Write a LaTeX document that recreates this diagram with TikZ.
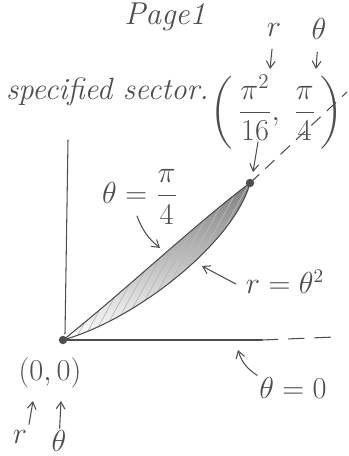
\documentclass[tikz,border=0pt]{standalone}
\usepackage{amsmath}
\usetikzlibrary{arrows.meta}
\definecolor{pencil}{HTML}{4E4E4E}
\definecolor{shade}{HTML}{E6E6E6}

\begin{document}
\begin{tikzpicture}[x=0.02cm,y=-0.02cm,
  hand/.style={pencil,line width=0.6pt,line cap=round},
  note/.style={pencil,font=\fontsize{16}{19}\selectfont,inner sep=1pt},
  tip/.style={hand,-{Straight Barb[length=4pt,width=5pt]}}]
  \useasboundingbox (0,0) rectangle (348,456);

  % Heading
  \node[note,font=\fontsize{18}{21}\selectfont,anchor=base] (title) at (165,25) {\itshape Page1};
  \node[note,font=\fontsize{17.5}{20}\selectfont,anchor=base west] (sector) at (4,99) {\itshape specified sector.};

  % End point in (r, theta)
  \node[note,font=\fontsize{17}{20}\selectfont] (endlbl) at (277,112) {$\left(\,\dfrac{\pi^2}{16},\;\dfrac{\pi}{4}\,\right)$};
  \node[note] (rtop) at (274,30) {$r$};
  \node[note] (thtop) at (319,29) {$\theta$};
  \coordinate (rtip) at (270,69);
  \coordinate (thtip) at (316,69);
  \draw[tip,shorten <=6pt] (rtop) -- (rtip);
  \draw[tip,shorten <=6pt] (thtop) -- (thtip);

  % Axes
  \coordinate (O) at (63,340);
  \coordinate (P) at (250,183);
  \coordinate (ytop) at (68,140);
  \coordinate (xend) at (262,340);
  \coordinate (xfar) at (335,337);
  \coordinate (rayfar) at (347,92);
  \draw[hand] (ytop) -- (65,334);
  \draw[hand] (O) -- (xend);
  \draw[hand,dash pattern=on 9pt off 6pt] (xend) -- (xfar);
  \draw[hand,dash pattern=on 7pt off 5pt] (P) -- (rayfar);

  % Sector between theta=pi/4 and r=theta^2
  \fill[shade] (O) .. controls (120,295) and (200,220) .. (P)
    .. controls (235,240) and (140,318) .. (O);
  \begin{scope}
    \clip (O) .. controls (120,295) and (200,220) .. (P)
      .. controls (235,240) and (140,318) .. (O);
    \foreach \h in {-120,-112,...,260}
      \draw[pencil!40,line width=0.4pt] (\h,360) -- ++(110,-200);
  \end{scope}
  \draw[hand] (O) .. controls (120,295) and (200,220) .. (P)
    .. controls (235,240) and (140,318) .. (O);
  \fill[pencil] (O) circle (2.4pt);
  \fill[pencil] (P) circle (2.4pt);
  \coordinate (ptop) at (258,142);
  \draw[tip] (ptop) -- (253,172);

  % Curve labels
  \node[note] (quarter) at (140,197) {$\theta=\dfrac{\pi}{4}$};
  \coordinate (qtip) at (160,248);
  \draw[tip] (137,216) to[bend right=15] (qtip);
  \node[note] (spiral) at (285,282) {$r=\theta^2$};
  \coordinate (stip) at (202,266);
  \draw[tip] (spiral.west) ++(-8,2) -- (stip);
  \node[note] (zero) at (293,388) {$\theta=0$};
  \coordinate (ztip) at (238,350);
  \draw[tip] (zero.north west) to[bend left=20] (ztip);

  % Origin
  \node[note] (orig) at (50,373) {$(0,0)$};
  \node[note] (rbot) at (20,437) {$r$};
  \node[note] (thbot) at (59,441) {$\theta$};
  \draw[tip] (rbot.north) ++(9,-4) -- (33,401);
  \draw[tip] (thbot) -- (61,401);
\end{tikzpicture}
\end{document}
